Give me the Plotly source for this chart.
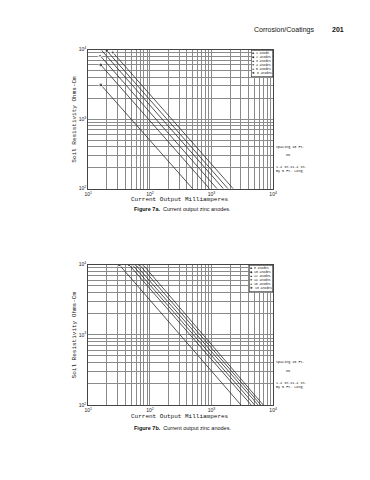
import plotly.graph_objects as go

W, H = 370, 480
OFF = 8  # default body margin of the html page
FW, FH = W - OFF, H - OFF

# ---------------- data ----------------
# Figure 7a: current output (mA) vs soil resistivity (ohm-cm)
top_names = ["1 anode", "2 anodes", "3 anodes", "4 anodes", "5 anodes", "6 anodes"]
top_current = [
    [16, 495],
    [16, 930],
    [15.5, 1230],
    [16, 1560],
    [20, 1850],
    [25, 2250],
]
top_resist = [
    [3100, 100],
    [6000, 100],
    [8200, 100],
    [10000, 100],
    [9600, 100],
    [9100, 100],
]

# Figure 7b
bot_names = ["8 anodes", "10 anodes", "12 anodes", "14 anodes", "16 anodes", "18 anodes"]
bot_current = [
    [31.8, 3000],
    [45.9, 4400],
    [51.8, 5000],
    [58.5, 5700],
    [67.6, 6300],
    [77.4, 6900],
]
bot_resist = [
    [10000, 100],
    [10000, 100],
    [10000, 100],
    [10000, 100],
    [10000, 100],
    [10000, 100],
]

symbols = ["square", "diamond", "triangle-up", "triangle-down", "circle", "cross"]
legend_glyphs = ["■", "◆", "▲", "▼", "●", "✚"]

x_decades = [10, 100, 1000, 10000]
y_decades = [100, 1000, 10000]
x_dec_text = ["10<sup>1</sup>", "10<sup>2</sup>", "10<sup>3</sup>", "10<sup>4</sup>"]
y_dec_text = ["10<sup>2</sup>", "10<sup>3</sup>", "10<sup>4</sup>"]


def px(x):
    return (x - OFF) / FW


def py(y):
    return 1 - (y - OFF) / FH


MONO = "Liberation Mono"
SANS = "Liberation Sans"
LINE = "#2a2a2a"
GRID = "#8a8a8a"

fig = go.Figure()

for names, cur, res, xa, ya in [
    (top_names, top_current, top_resist, "x", "y"),
    (bot_names, bot_current, bot_resist, "x2", "y2"),
]:
    for i, nm in enumerate(names):
        fig.add_trace(go.Scatter(
            x=cur[i], y=res[i], name=nm, xaxis=xa, yaxis=ya,
            mode="lines+markers",
            line=dict(color=LINE, width=0.8),
            marker=dict(symbol=symbols[i], size=[3.5, 0], color=LINE),
            showlegend=False, hoverinfo="skip",
        ))

x_dom = [px(86), px(275)]
axis_common = dict(
    type="log", showline=True, mirror=True, linecolor="#444", linewidth=0.9,
    showgrid=True, gridcolor=GRID, gridwidth=0.6, ticks="", zeroline=False,
    tickfont=dict(family=SANS, size=5, color="#222"),
    minor=dict(dtick="D1", showgrid=True, gridcolor=GRID, gridwidth=0.6, ticks=""),
)
fig.update_layout(
    xaxis=dict(domain=x_dom, range=[1, 4], anchor="y",
               tickvals=x_decades, ticktext=x_dec_text, **axis_common),
    yaxis=dict(domain=[py(188), py(47)], range=[2, 4], anchor="x",
               tickvals=y_decades, ticktext=y_dec_text, **axis_common),
    xaxis2=dict(domain=x_dom, range=[1, 4], anchor="y2",
                tickvals=x_decades, ticktext=x_dec_text, **axis_common),
    yaxis2=dict(domain=[py(407), py(265)], range=[2, 4], anchor="x2",
                tickvals=y_decades, ticktext=y_dec_text, **axis_common),
)

ann = []


def text(x, y, t, size=6, family=SANS, xanchor="center", yanchor="middle", angle=0, **kw):
    ann.append(dict(x=px(x), y=py(y), xref="paper", yref="paper", text=t,
                    showarrow=False, xanchor=xanchor, yanchor=yanchor, textangle=angle,
                    font=dict(family=family, size=size, color="#111"), **kw))


# page header
text(319, 27, "Corrosion/Coatings", size=7, xanchor="right")
text(333, 27, "<b>201</b>", size=7, xanchor="left")

for (y_xt, y_cap, y_mid, y_top, cap, names, y_spacing) in [
    (199, 209, 117.5, 47, "<b>Figure 7a.</b>  Current output zinc anodes.", top_names, 145.5),
    (419, 430, 336, 265, "<b>Figure 7b.</b>  Current output zinc anodes.", bot_names, 364),
]:
    text(180, y_xt, "Current Output Milliamperes", size=6, family=MONO)
    text(182, y_cap, cap, size=5.5)
    text(72, y_mid, "Soil Resistivity Ohms-Cm", size=6, family=MONO, angle=-90)
    # right-side notes
    text(276, y_spacing, "Spacing 10 Ft.", size=3.4, family=MONO, xanchor="left")
    text(286, y_spacing + 8.5, "ZN", size=3.4, family=MONO, xanchor="left")
    text(276, y_spacing + 20.5, "1.4 In.x1.4 In.", size=3.4, family=MONO, xanchor="left")
    text(276, y_spacing + 25, "By 5 Ft. Long", size=3.4, family=MONO, xanchor="left")
    # legend box
    leg = "<br>".join(f"{g} {n}" for g, n in zip(legend_glyphs, names))
    ann.append(dict(x=px(275), y=py(y_top), xref="paper", yref="paper", text=leg,
                    showarrow=False, xanchor="right", yanchor="top", align="left",
                    bgcolor="white", bordercolor="#333", borderwidth=0.6, borderpad=0.6,
                    font=dict(family=MONO, size=3.1, color="#111")))

fig.update_layout(
    width=FW, height=FH, margin=dict(l=0, r=0, t=0, b=0),
    paper_bgcolor="white", plot_bgcolor="white",
    annotations=ann, showlegend=False,
)

fig.write_html("out.html")
